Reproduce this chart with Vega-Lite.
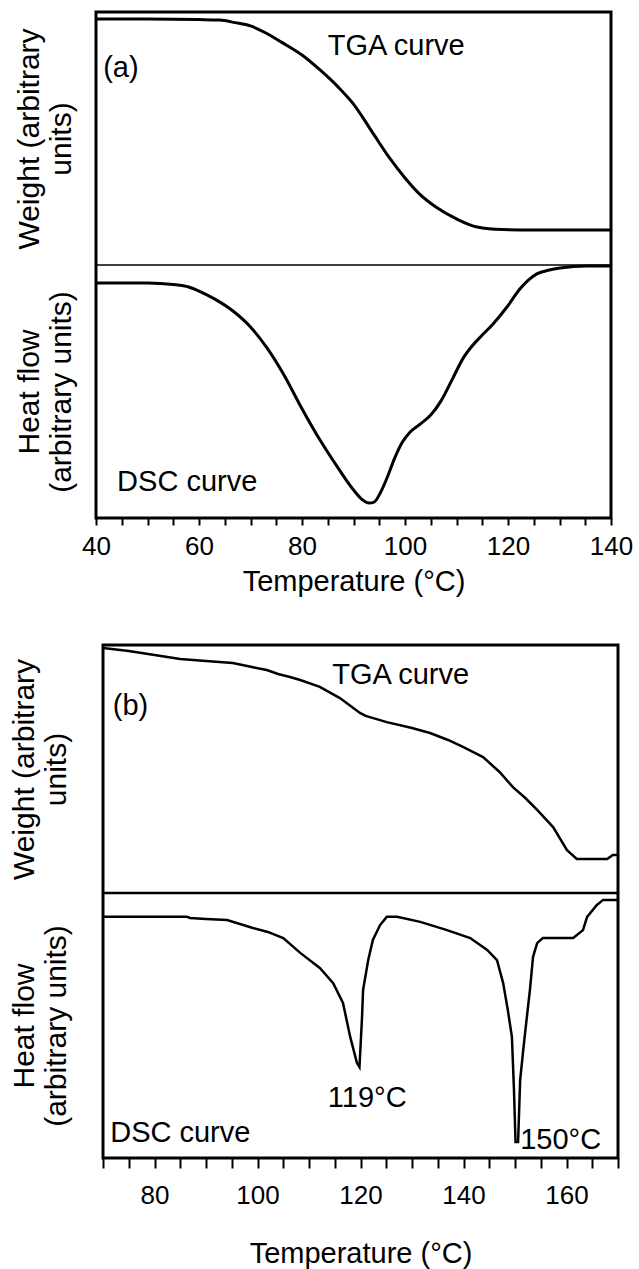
{
  "$schema": "https://vega.github.io/schema/vega-lite/v6.json",
  "background": "white",
  "autosize": {"type": "none"},
  "width": 522,
  "height": 1146,
  "padding": {"left": 96, "top": 12, "right": 21, "bottom": 111},
  "config": {
    "font": "Liberation Sans",
    "view": {"stroke": null},
    "axis": {"grid": false, "domain": false, "labelFont": "Liberation Sans", "titleFont": "Liberation Sans", "labelColor": "black", "titleColor": "black", "titleFontWeight": "normal"}
  },
  "layer": [
    {
      "encoding": {
        "x": {
          "field": "temp", "type": "quantitative",
          "scale": {"domain": [40, 140], "range": [0, 515], "nice": false, "zero": false},
          "axis": {
            "orient": "bottom", "offset": -640,
            "values": [40,45,50,55,60,65,70,75,80,85,90,95,100,105,110,115,120,125,130,135,140],
            "labelExpr": "datum.value % 20 === 0 ? datum.label : ''",
            "tickSize": 7, "tickWidth": 2, "tickColor": "black",
            "labelFontSize": 26, "labelPadding": 8, "labelFlush": false, "labelOverlap": false, "labelBound": false,
            "title": "Temperature (°C)", "titleFontSize": 29, "titlePadding": 8
          }
        },
        "y": {
          "field": "w", "type": "quantitative",
          "scale": {"domain": [0, 100], "range": [253, 0], "nice": false, "zero": false},
          "axis": {"orient": "left", "ticks": false, "labels": false, "domain": false, "title": ["Weight (arbitrary", "units)"], "titleFontSize": 30, "titleLineHeight": 32, "titlePadding": 20}
        }
      },
      "layer": [
        {
          "data": {"values": [
            {"temp":40,"w":97.2},{"temp":50,"w":97.2},{"temp":60,"w":97.0},{"temp":64,"w":96.8},{"temp":67,"w":95.8},{"temp":70,"w":94.5},{"temp":73,"w":91.7},{"temp":76,"w":88.1},{"temp":80,"w":83.0},{"temp":83.5,"w":77.1},{"temp":87,"w":70.4},{"temp":90,"w":63.6},{"temp":94,"w":51.4},{"temp":97,"w":42.3},{"temp":100,"w":34.4},{"temp":103,"w":27.7},{"temp":106,"w":22.9},{"temp":110,"w":18.2},{"temp":114,"w":15.0},{"temp":119,"w":14.0},{"temp":125,"w":13.8},{"temp":132,"w":13.8},{"temp":140,"w":13.8}
          ]},
          "mark": {"type": "line", "color": "black", "strokeWidth": 3, "interpolate": "monotone"}
        },
        {
          "data": {"values": [{"temp":41.4,"w":77.9,"t":"(a)"},{"temp":85,"w":86.6,"t":"TGA curve"}]},
          "mark": {"type": "text", "align": "left", "baseline": "middle", "fontSize": 29, "color": "black"},
          "encoding": {"text": {"field": "t"}}
        },
        {
          "data": {"values": [{"temp":40,"temp_end":140,"w":0}]},
          "mark": {"type": "rule", "color": "black", "strokeWidth": 1.5},
          "encoding": {"x2": {"field": "temp_end"}}
        },
        {
          "data": {"values": [{"temp":40,"temp_end":140,"w":100,"w_end":-100}]},
          "mark": {"type": "rect", "fillOpacity": 0, "stroke": "black", "strokeWidth": 3},
          "encoding": {"x2": {"field": "temp_end"}, "y2": {"field": "w_end"}}
        }
      ]
    },
    {
      "encoding": {
        "x": {
          "field": "temp", "type": "quantitative",
          "scale": {"domain": [40, 140], "range": [0, 515], "nice": false, "zero": false},
          "axis": null
        },
        "y": {
          "field": "h", "type": "quantitative",
          "scale": {"domain": [0, 100], "range": [506, 253], "nice": false, "zero": false},
          "axis": {"orient": "left", "ticks": false, "labels": false, "domain": false, "title": ["Heat flow", "(arbitrary units)"], "titleFontSize": 30, "titleLineHeight": 32, "titlePadding": 20}
        }
      },
      "layer": [
        {
          "data": {"values": [
            {"temp":40,"h":92.9},{"temp":50,"h":92.9},{"temp":55,"h":92.3},{"temp":58,"h":91.3},{"temp":60,"h":89.7},{"temp":63,"h":86.6},{"temp":66.6,"h":81.8},{"temp":70,"h":75.5},{"temp":73.2,"h":67.2},{"temp":76.5,"h":56.5},{"temp":79.6,"h":44.7},{"temp":83.5,"h":30.8},{"temp":87,"h":19.8},{"temp":90,"h":11.1},{"temp":91.8,"h":7.1},{"temp":93,"h":5.9},{"temp":94,"h":6.3},{"temp":95.2,"h":9.9},{"temp":96.5,"h":15.8},{"temp":98,"h":23.7},{"temp":99.5,"h":30.0},{"temp":101,"h":34.0},{"temp":103,"h":37.2},{"temp":105,"h":40.7},{"temp":107,"h":46.3},{"temp":109.3,"h":55.3},{"temp":111.3,"h":63.2},{"temp":113.2,"h":68.4},{"temp":115,"h":72.3},{"temp":117.1,"h":76.7},{"temp":119.8,"h":83.4},{"temp":122.3,"h":90.5},{"temp":124,"h":94.1},{"temp":125.6,"h":96.5},{"temp":128,"h":98.0},{"temp":130.1,"h":98.8},{"temp":135.3,"h":99.6},{"temp":140,"h":99.6}
          ]},
          "mark": {"type": "line", "color": "black", "strokeWidth": 3, "interpolate": "monotone"}
        },
        {
          "data": {"values": [{"temp":44.1,"h":14.2,"t":"DSC curve"}]},
          "mark": {"type": "text", "align": "left", "baseline": "middle", "fontSize": 29, "color": "black"},
          "encoding": {"text": {"field": "t"}}
        }
      ]
    },
    {
      "encoding": {
        "x": {
          "field": "temp", "type": "quantitative",
          "scale": {"domain": [70, 170], "range": [7, 522], "nice": false, "zero": false},
          "axis": {
            "orient": "bottom", "offset": 0,
            "values": [70,75,80,85,90,95,100,105,110,115,120,125,130,135,140,145,150,155,160,165,170],
            "labelExpr": "datum.value % 20 === 0 ? datum.label : ''",
            "tickSize": 10, "tickWidth": 2, "tickColor": "black",
            "labelFontSize": 26, "labelPadding": 14, "labelFlush": false, "labelOverlap": false, "labelBound": false,
            "title": "Temperature (°C)", "titleFontSize": 29, "titlePadding": 31
          }
        },
        "y": {
          "field": "w", "type": "quantitative",
          "scale": {"domain": [0, 100], "range": [881, 633], "nice": false, "zero": false},
          "axis": {"orient": "left", "ticks": false, "labels": false, "domain": false, "title": ["Weight (arbitrary", "units)"], "titleFontSize": 30, "titleLineHeight": 32, "titlePadding": 25}
        }
      },
      "layer": [
        {
          "data": {"values": [
            {"temp":70,"w":98.8},{"temp":75,"w":97.6},{"temp":80,"w":96.0},{"temp":85,"w":94.4},{"temp":90,"w":93.5},{"temp":95.2,"w":92.7},{"temp":98,"w":91.5},{"temp":101.8,"w":89.9},{"temp":104,"w":88.3},{"temp":106.3,"w":87.1},{"temp":108.3,"w":85.9},{"temp":112.1,"w":83.1},{"temp":116,"w":78.6},{"temp":119.9,"w":72.6},{"temp":121,"w":71.4},{"temp":125.1,"w":68.9},{"temp":130,"w":66.5},{"temp":133.5,"w":64.5},{"temp":137,"w":61.7},{"temp":139.9,"w":58.9},{"temp":143.8,"w":54.8},{"temp":147,"w":48.8},{"temp":149.6,"w":42.7},{"temp":152,"w":38.3},{"temp":154.3,"w":33.5},{"temp":157.4,"w":26.6},{"temp":160.1,"w":17.3},{"temp":162,"w":13.7},{"temp":167.9,"w":13.7},{"temp":169,"w":15.3},{"temp":170,"w":15.3}
          ]},
          "mark": {"type": "line", "color": "black", "strokeWidth": 2.5}
        },
        {
          "data": {"values": [{"temp":71.9,"w":75.4,"t":"(b)"},{"temp":114.5,"w":87.9,"t":"TGA curve"}]},
          "mark": {"type": "text", "align": "left", "baseline": "middle", "fontSize": 29, "color": "black"},
          "encoding": {"text": {"field": "t"}}
        },
        {
          "data": {"values": [{"temp":70,"temp_end":170,"w":0}]},
          "mark": {"type": "rule", "color": "black", "strokeWidth": 2.5},
          "encoding": {"x2": {"field": "temp_end"}}
        },
        {
          "data": {"values": [{"temp":70,"temp_end":170,"w":100,"w_end":-106.85}]},
          "mark": {"type": "rect", "fillOpacity": 0, "stroke": "black", "strokeWidth": 3},
          "encoding": {"x2": {"field": "temp_end"}, "y2": {"field": "w_end"}}
        }
      ]
    },
    {
      "encoding": {
        "x": {
          "field": "temp", "type": "quantitative",
          "scale": {"domain": [70, 170], "range": [7, 522], "nice": false, "zero": false},
          "axis": null
        },
        "y": {
          "field": "h", "type": "quantitative",
          "scale": {"domain": [0, 100], "range": [1146, 881], "nice": false, "zero": false},
          "axis": {"orient": "left", "ticks": false, "labels": false, "domain": false, "title": ["Heat flow", "(arbitrary units)"], "titleFontSize": 30, "titleLineHeight": 32, "titlePadding": 25}
        }
      },
      "layer": [
        {
          "data": {"values": [
            {"temp":70,"h":91.0},{"temp":86.3,"h":91.0},{"temp":86.9,"h":90.6},{"temp":90,"h":90.2},{"temp":94.1,"h":89.8},{"temp":99.1,"h":86.8},{"temp":102,"h":85.3},{"temp":105,"h":83.0},{"temp":108.3,"h":77.4},{"temp":112.1,"h":71.7},{"temp":114.7,"h":66.0},{"temp":116.6,"h":58.5},{"temp":118.0,"h":45.7},{"temp":119.3,"h":35.9},{"temp":119.8,"h":34.3},{"temp":120.3,"h":53.2},{"temp":120.5,"h":63.4},{"temp":121.5,"h":74.7},{"temp":122.4,"h":82.3},{"temp":123.8,"h":87.9},{"temp":125.1,"h":91.0},{"temp":127.1,"h":91.0},{"temp":131.6,"h":89.1},{"temp":136.8,"h":86.0},{"temp":141.3,"h":83.0},{"temp":144.6,"h":78.5},{"temp":146.5,"h":74.7},{"temp":147.7,"h":66.0},{"temp":148.6,"h":55.9},{"temp":149.4,"h":45.7},{"temp":149.8,"h":25.7},{"temp":150.1,"h":6.0},{"temp":150.6,"h":6.0},{"temp":151.0,"h":29.4},{"temp":151.6,"h":40.8},{"temp":152.3,"h":53.2},{"temp":152.9,"h":63.4},{"temp":153.5,"h":75.9},{"temp":154.3,"h":81.1},{"temp":155.4,"h":83.0},{"temp":161.3,"h":83.0},{"temp":163.2,"h":86.0},{"temp":164.0,"h":91.0},{"temp":165.9,"h":95.5},{"temp":167.1,"h":97.4},{"temp":169.8,"h":97.4}
          ]},
          "mark": {"type": "line", "color": "black", "strokeWidth": 2.5}
        },
        {
          "data": {"values": [{"temp":121.3,"h":22.6,"t":"119°C"}]},
          "mark": {"type": "text", "align": "center", "baseline": "middle", "fontSize": 29, "color": "black"},
          "encoding": {"text": {"field": "t"}}
        },
        {
          "data": {"values": [{"temp":151.0,"h":6.8,"t":"150°C"},{"temp":71.4,"h":9.4,"t":"DSC curve"}]},
          "mark": {"type": "text", "align": "left", "baseline": "middle", "fontSize": 29, "color": "black"},
          "encoding": {"text": {"field": "t"}}
        }
      ]
    }
  ],
  "resolve": {"scale": {"x": "independent", "y": "independent"}, "axis": {"x": "independent", "y": "independent"}}
}
